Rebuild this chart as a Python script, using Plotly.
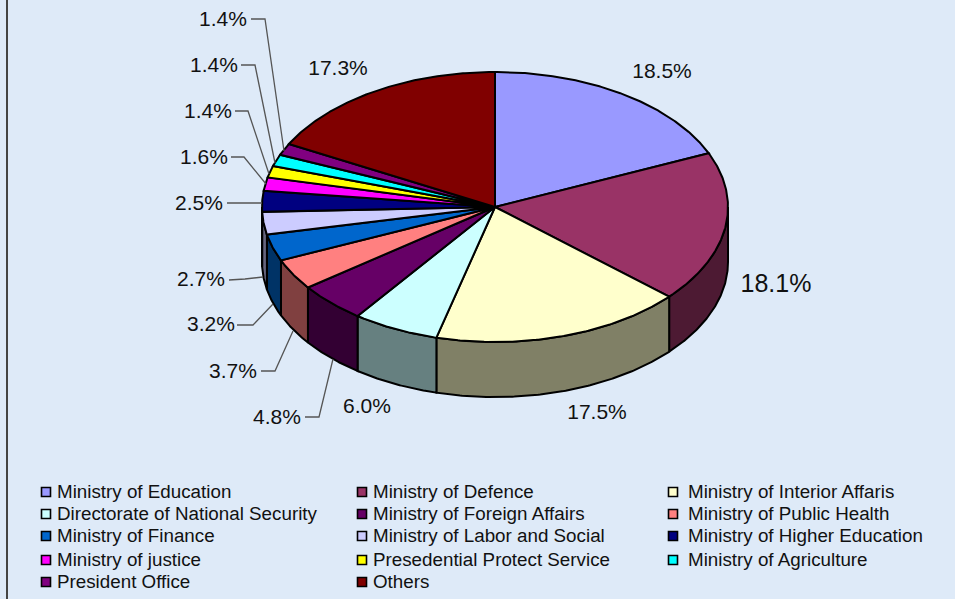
import math
import plotly.graph_objects as go

categories = ["Ministry of Education", "Ministry of Defence", "Ministry of Interior Affaris",
              "Directorate of National Security", "Ministry of Foreign Affairs", "Ministry of Public Health",
              "Ministry of Finance", "Ministry of Labor and Social", "Ministry of Higher Education",
              "Ministry of justice", "Presedential Protect Service", "Ministry of Agriculture",
              "President Office", "Others"]
values = [18.5, 18.1, 17.5, 6.0, 4.8, 3.7, 3.2, 2.7, 2.5, 1.6, 1.4, 1.4, 1.4, 17.3]
colors = ["#9999FF", "#993366", "#FFFFCC", "#CCFFFF", "#660066", "#FF8080", "#0066CC",
          "#CCCCFF", "#000080", "#FF00FF", "#FFFF00", "#00FFFF", "#800080", "#800000"]
wall_colors = ["#4D4D80", "#4D1A33", "#808066", "#668080", "#330033", "#804040", "#003366",
               "#666680", "#000040", "#800080", "#808000", "#008080", "#400040", "#400000"]
label_x = [662, 776, 597, 367, 277, 233, 211, 201, 199, 204, 208, 214, 223, 338]
label_y = [73, 286, 414, 408, 419, 373, 326, 281, 205, 159, 113, 67, 21, 70]
label_size = [21, 25, 21, 21, 21, 21, 21, 21, 21, 21, 21, 21, 21, 21]
legend_col = [46, 362, 673]
legend_text_col = [57, 373, 688]
legend_row = [493, 515, 537, 561, 583]
leader_lines = [
    ([251, 265, 284], [19, 19, 151]),
    ([241, 255, 275], [65, 65, 163]),
    ([235, 248, 269], [111, 111, 174]),
    ([231, 244, 266], [157, 157, 184]),
    ([227, 262], [203, 203]),
    ([229, 245, 263], [280, 279, 277]),
    ([237, 253, 273], [325, 325, 304]),
    ([261, 275, 293], [371, 371, 331]),
    ([305, 319, 333], [417, 417, 359]),
]

CX, CY, RX, RY, DEPTH = 495, 207, 233, 135, 55
BG = "#DEEAF8"


def rim(a, b, dy=0, n=None):
    n = n or max(2, int(abs(b - a) * 2) + 2)
    xs, ys = [], []
    for i in range(n + 1):
        t = math.radians(a + (b - a) * i / n)
        xs.append(CX + RX * math.sin(t))
        ys.append(CY - RY * math.cos(t) + dy)
    return xs, ys


fig = go.Figure()
total = sum(values)
starts, cum = [], 0.0
for v in values:
    starts.append(cum / total * 360)
    cum += v
ends = starts[1:] + [360.0]

# Side wall of the disc: only the part of each slice that faces the viewer
for a, b, name, wc in zip(starts, ends, categories, wall_colors):
    lo, hi = max(a, 90), min(b, 270)
    if lo >= hi:
        continue
    tx, ty = rim(lo, hi)
    bx, by = rim(hi, lo, DEPTH)
    fig.add_trace(go.Scatter(x=tx + bx + tx[:1], y=ty + by + ty[:1], mode="lines", fill="toself",
                             fillcolor=wc, line=dict(color="black", width=2), name=name,
                             showlegend=False, hoverinfo="skip"))

# Top face of the disc
for a, b, name, c, v in zip(starts, ends, categories, colors, values):
    rx, ry = rim(a, b)
    fig.add_trace(go.Scatter(x=[CX] + rx + [CX], y=[CY] + ry + [CY], mode="lines", fill="toself",
                             fillcolor=c, line=dict(color="black", width=2), name=name,
                             showlegend=False, text=f"{name}: {v:.1f}%", hoverinfo="text"))

# Leader lines
for lx, ly in leader_lines:
    fig.add_trace(go.Scatter(x=lx, y=ly, mode="lines", line=dict(color="#555555", width=1.3),
                             showlegend=False, hoverinfo="skip"))

# Percentage labels
fig.add_trace(go.Scatter(x=label_x, y=label_y, mode="text", text=[f"{v:.1f}%" for v in values],
                         textposition="middle center",
                         textfont=dict(family="Liberation Sans, Arial, sans-serif", size=label_size, color="#111111"),
                         showlegend=False, hoverinfo="skip"))

# Key, three columns, filled row by row
kx, ky, tx = [], [], []
for i in range(len(categories)):
    row, col = divmod(i, 3)
    kx.append(legend_col[col])
    tx.append(legend_text_col[col])
    ky.append(legend_row[row])
fig.add_trace(go.Scatter(x=kx, y=[y - 1 for y in ky], mode="markers",
                         marker=dict(symbol="square", size=9, color=colors, line=dict(color="black", width=1.6)),
                         showlegend=False, hoverinfo="skip"))
fig.add_trace(go.Scatter(x=tx, y=ky, mode="text", text=categories, textposition="middle right",
                         textfont=dict(family="Liberation Sans, Arial, sans-serif", size=18.8, color="#111111"),
                         showlegend=False, hoverinfo="skip"))

fig.update_layout(
    width=955, height=599, autosize=False,
    margin=dict(l=0, r=0, t=0, b=0),
    paper_bgcolor=BG, plot_bgcolor=BG,
    showlegend=False,
    xaxis=dict(range=[0, 955], visible=False, fixedrange=True),
    yaxis=dict(range=[599, 0], visible=False, fixedrange=True),
    shapes=[dict(type="line", xref="x", yref="y", x0=7, x1=7, y0=0, y1=599,
                 line=dict(color="#444444", width=2), layer="below")],
)
fig.write_html("out.html", config=dict(displayModeBar=False),
               post_script="document.body.style.margin='0';document.documentElement.style.overflow='hidden';")
